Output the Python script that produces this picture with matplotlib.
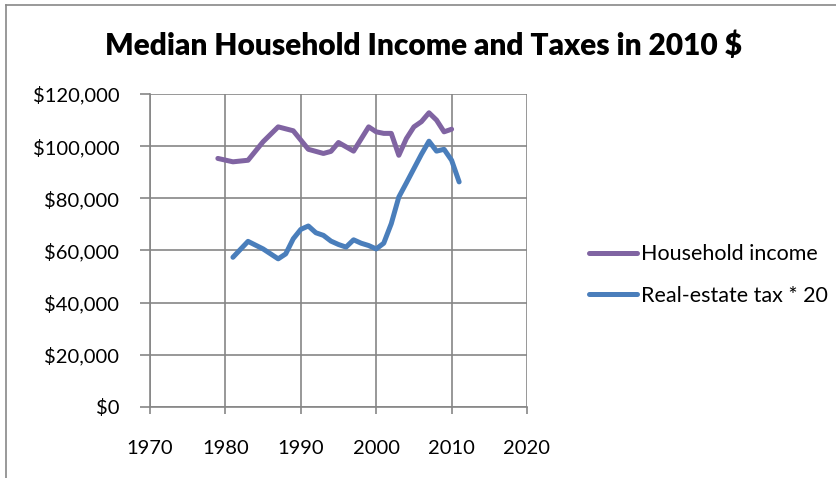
import matplotlib.pyplot as plt
from matplotlib.lines import Line2D
from matplotlib.ticker import FuncFormatter

plt.rcParams['font.family'] = ['Lato', 'DejaVu Sans']

# Median household income, 2010 dollars
income_years = [1979, 1981, 1983, 1985, 1987, 1989, 1991, 1993, 1994, 1995, 1997, 1999,
                2000, 2001, 2002, 2003, 2004, 2005, 2006, 2007, 2008, 2009, 2010]
income = [95300, 94000, 94600, 101700, 107400, 105900, 98800, 97200, 98000, 101400, 98100,
          107400, 105500, 104900, 104900, 96500, 102900, 107400, 109400, 112800, 110000,
          105500, 106500]

# Median real-estate tax scaled by 20, 2010 dollars
tax_years = [1981, 1983, 1985, 1987, 1988, 1989, 1990, 1991, 1992, 1993, 1994, 1995, 1996,
             1997, 1998, 1999, 2000, 2001, 2002, 2003, 2004, 2005, 2006, 2007, 2008, 2009,
             2010, 2011]
tax20 = [57400, 63500, 60600, 56800, 58700, 64500, 68100, 69400, 66800, 65800, 63600, 62300,
         61300, 64100, 62800, 61900, 60600, 62800, 70300, 80500, 85900, 91400, 96900, 101900,
         98100, 98800, 94600, 86300]

fig = plt.figure(figsize=(8.36, 4.78), dpi=100)
ax = fig.add_axes([150 / 836, 1 - 407 / 478, 377 / 836, 313 / 478])

ax.plot(income_years, income, color='#8064A2', lw=3.6, solid_capstyle='round',
        solid_joinstyle='round', label='Household income')
ax.plot(tax_years, tax20, color='#4A7EBB', lw=3.6, solid_capstyle='round',
        solid_joinstyle='round', label='Real-estate tax * 20')

ax.set_xlim(1970, 2020)
ax.set_ylim(0, 120000)
ax.set_xticks(range(1970, 2021, 10))
ax.set_yticks(range(0, 120001, 20000))
ax.yaxis.set_major_formatter(FuncFormatter(lambda v, p: '${:,.0f}'.format(v)))
ax.grid(True, color='#868686', lw=1.2)
ax.set_axisbelow(True)
for s in ['top', 'right']:
    ax.spines[s].set_visible(False)
for s in ['left', 'bottom']:
    ax.spines[s].set_color('#868686')
    ax.spines[s].set_linewidth(1.2)
ax.tick_params(axis='both', colors='#868686', width=1.2, labelsize=14.5, labelcolor='black')
ax.tick_params(axis='x', length=5, pad=19)
ax.tick_params(axis='y', length=7, pad=15)

fig.text(0.506, 0.905, 'Median Household Income and Taxes in 2010 $', ha='center', va='center',
         fontsize=21.5, fontweight='heavy')

ax.legend(loc='center left', bbox_to_anchor=(570 / 836, 1 - 275 / 478),
          bbox_transform=fig.transFigure, frameon=False, fontsize=15.5,
          handlelength=2.2, handletextpad=0.2, labelspacing=1.0)

# outer chart border
fig.add_artist(Line2D([6 / 836, 6 / 836], [0, 1 - 5 / 478], color='#888888', lw=1.2))
fig.add_artist(Line2D([6 / 836, 1], [1 - 5 / 478, 1 - 5 / 478], color='#888888', lw=1.2))

fig.savefig('out.png', dpi=100)
